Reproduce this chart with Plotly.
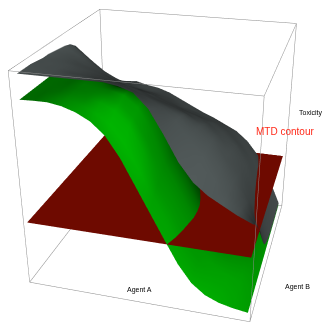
import numpy as np
import plotly.graph_objects as go

agent_a = [.02,.08,.14,.2,.26,.32,.38,.44,.5,.56,.62,.68,.74,.8,.86,.92,.985]
agent_b = [.03,.089,.148,.206,.265,.324,.383,.441,.5,.559,.618,.676,.735,.794,.853,.911,.97]
# one row per value of agent_b, one column per value of agent_a
green_z = [
 [.87,.872,.872,.862,.842,.81,.755,.665,.55,.435,.32,.207,.122,.072,.045,.03,.02],
 [.87,.871,.874,.867,.851,.823,.778,.70,.59,.47,.36,.242,.144,.084,.052,.033,.02],
 [.87,.87,.875,.871,.856,.845,.815,.755,.65,.50,.39,.27,.163,.095,.058,.037,.02],
 [.87,.87,.874,.871,.859,.85,.825,.77,.67,.52,.408,.29,.181,.106,.064,.04,.02],
 [.87,.87,.873,.872,.86,.855,.84,.79,.69,.54,.426,.31,.20,.117,.07,.044,.02],
 [.87,.87,.87,.873,.86,.85,.84,.80,.70,.545,.43,.315,.205,.12,.07,.045,.02],
 [.87,.87,.87,.87,.85,.83,.82,.79,.70,.54,.426,.31,.20,.117,.07,.044,.02],
 [.87,.87,.865,.85,.825,.80,.79,.77,.69,.52,.408,.29,.181,.106,.064,.04,.02],
 [.87,.87,.86,.825,.795,.775,.765,.745,.67,.49,.38,.26,.155,.09,.055,.035,.02],
 [.86,.86,.835,.795,.765,.745,.735,.715,.63,.457,.344,.228,.136,.08,.049,.032,.02],
 [.85,.84,.805,.77,.735,.72,.71,.69,.58,.416,.296,.187,.11,.066,.041,.028,.02],
 [.84,.80,.77,.74,.71,.695,.685,.62,.50,.344,.228,.136,.08,.049,.032,.023,.02],
 [.79,.75,.73,.71,.685,.67,.66,.58,.416,.30,.19,.112,.067,.042,.028,.02,.02],
 [.735,.70,.66,.63,.605,.585,.55,.435,.32,.207,.122,.072,.045,.03,.022,.02,.02],
 [.685,.66,.63,.61,.585,.55,.435,.32,.207,.122,.072,.045,.03,.022,.02,.02,.02],
 [.64,.625,.61,.59,.55,.435,.32,.207,.122,.072,.045,.03,.022,.02,.02,.02,.02],
 [.61,.60,.59,.55,.435,.32,.207,.122,.072,.045,.03,.022,.02,.02,.02,.02,.02]]
# one row per value of agent_a, one column per value of agent_b
gray_by_a = [
 [.98,.98,.98,.975,.97,.97,.965,.96,.955,.945,.92,.875,.82,.765,.715,.67,.64],
 [.98,.98,.975,.97,.965,.955,.945,.93,.915,.90,.87,.83,.78,.73,.69,.655,.635],
 [.98,.975,.97,.96,.95,.935,.915,.895,.875,.85,.82,.785,.745,.705,.675,.655,.635],
 [.98,.975,.96,.945,.93,.91,.89,.865,.84,.81,.785,.755,.725,.70,.68,.66,.64],
 [.98,.97,.955,.935,.915,.89,.865,.84,.81,.78,.75,.725,.70,.675,.655,.64,.625],
 [.98,.965,.945,.92,.895,.87,.845,.815,.79,.76,.735,.71,.685,.66,.645,.63,.615],
 [.98,.96,.935,.91,.885,.86,.835,.805,.78,.75,.725,.70,.675,.655,.635,.615,.595],
 [.97,.945,.92,.89,.865,.84,.81,.785,.76,.73,.705,.68,.655,.63,.605,.585,.565],
 [.95,.92,.89,.865,.84,.81,.785,.755,.73,.70,.675,.645,.62,.595,.575,.555,.535],
 [.89,.87,.85,.83,.81,.785,.76,.735,.705,.68,.65,.625,.60,.575,.55,.53,.505],
 [.79,.785,.78,.775,.77,.755,.735,.705,.68,.655,.63,.60,.575,.55,.525,.505,.48],
 [.68,.69,.695,.70,.70,.695,.685,.67,.65,.625,.60,.58,.555,.53,.505,.48,.45],
 [.60,.61,.62,.63,.635,.635,.63,.62,.60,.58,.56,.54,.515,.49,.465,.445,.42],
 [.55,.55,.555,.56,.56,.56,.55,.54,.53,.515,.50,.48,.455,.43,.41,.39,.37],
 [.515,.515,.51,.505,.50,.49,.48,.465,.45,.435,.42,.40,.38,.36,.345,.32,.295],
 [.48,.465,.45,.43,.41,.385,.355,.33,.30,.275,.255,.235,.22,.205,.195,.185,.18],
 [.45,.415,.37,.325,.275,.21,.15,.10,.07,.05,.04,.035,.03,.03,.03,.03,.03]]
mtd_z = [[.295, .295], [.295, .295]]
mtd_a = [0, .985]
mtd_b = [.03, 1]

ex, ey, ez, H, ox, oy = 0.809, -2.840, 1.399, 583.992, 136.945, 143.423
W = H*335/322
flat = dict(ambient=1, diffuse=0, specular=0, roughness=1, fresnel=0)

def shade(z, gamma):
    """Head-light shading of a surface: cosine between its normal and the direction to the camera."""
    z = np.asarray(z, float)
    a, b = np.array(agent_a), np.array(agent_b)
    dzb, dza = np.gradient(z, b, a)
    n = np.stack([-dza, -dzb, np.ones_like(z)], -1)
    n /= np.linalg.norm(n, axis=-1, keepdims=True)
    A, B = np.meshgrid(a, b)
    L = np.stack([ex-(A-.5), ey-(B-.5), ez-(z-.5)], -1)
    L /= np.linalg.norm(L, axis=-1, keepdims=True)
    return np.clip((n*L).sum(-1), 0, 1)**gamma

gray_z = np.array(gray_by_a).T
fig = go.Figure()
fig.add_surface(x=agent_a, y=agent_b, z=green_z, surfacecolor=shade(green_z, .75), cmin=0, cmax=1,
    colorscale=[[0,"#001000"],[1,"#00d800"]], showscale=False, lighting=flat, hoverinfo="skip")
fig.add_surface(x=agent_a, y=agent_b, z=gray_z, surfacecolor=shade(gray_z, .45), cmin=0, cmax=1,
    colorscale=[[0,"#1c1e1e"],[1,"#626c6c"]], showscale=False, lighting=flat, hoverinfo="skip")
fig.add_surface(x=mtd_a, y=mtd_b, z=mtd_z, colorscale=[[0,"#6e0a00"],[1,"#6e0a00"]], showscale=False,
    lighting=flat, hoverinfo="skip")
bx, by, bz = [], [], []
for a, b, c, d in [(0,0,1,0),(1,0,1,1),(1,1,0,1),(0,1,0,0)]:
    bx += [a,c,None,a,c,None,a,a,None]; by += [b,d,None,b,d,None,b,b,None]; bz += [0,0,None,1,1,None,0,1,None]
fig.add_scatter3d(x=bx, y=by, z=bz, mode="lines", line=dict(color="#8c8c8c", width=1), showlegend=False, hoverinfo="skip")
ax = dict(range=[0,1], visible=False)
fig.update_layout(width=W, height=H, margin=dict(l=0,r=0,t=0,b=0), showlegend=False, paper_bgcolor="white",
    scene=dict(xaxis=ax, yaxis=ax, zaxis=ax, aspectmode="manual", aspectratio=dict(x=1,y=1,z=1),
        camera=dict(eye=dict(x=ex,y=ey,z=ez), center=dict(x=0,y=0,z=0), up=dict(x=0,y=0,z=1),
                    projection=dict(type="perspective")), domain=dict(x=[0,1],y=[0,1])))
def ann(text, px, py, size, color="black"):
    fig.add_annotation(text=text, xref="paper", yref="paper", x=(px+ox)/W, y=1-(py+oy)/H,
        xanchor="center", yanchor="middle", showarrow=False,
        font=dict(family="Liberation Sans", size=size, color=color))
ann("Toxicity", 310, 113, 7)
ann("Agent A", 139, 290, 7)
ann("Agent B", 297, 287, 7)
ann("MTD contour", 285, 131, 10, "#ff2a1a")
post = ("var d=document.getElementById('{plot_id}');d.style.position='absolute';"
        f"d.style.left='{-ox:.1f}px';d.style.top='{-oy:.1f}px';"
        "document.body.style.overflow='hidden';document.documentElement.style.overflow='hidden';")
fig.write_html("out.html", post_script=post)
